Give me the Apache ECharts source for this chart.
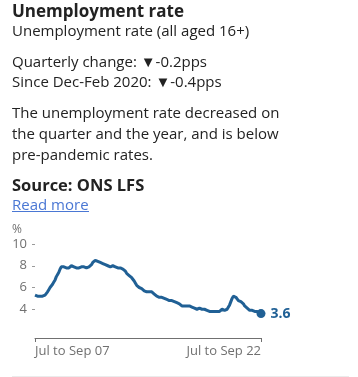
<!DOCTYPE html>
<html>
<head>
<meta charset="utf-8">
<script src="https://cdn.jsdelivr.net/npm/echarts@6/dist/echarts.min.js"></script>
<style>
html,body{margin:0;padding:0;background:#fff;}
#chart{width:358px;height:377px;}
</style>
</head>
<body>
<div id="chart"></div>
<script>
// Unemployment rate (%), rolling 3-month periods, Jul-Sep 2007 to Jul-Sep 2022 (by end month)
const rate2007 = [5.3, 5.2, 5.2, 5.2];
const rate2008 = [5.2, 5.2, 5.2, 5.2, 5.3, 5.4, 5.6, 5.8, 6.0, 6.1, 6.3, 6.5];
const rate2009 = [6.7, 7.0, 7.2, 7.4, 7.7, 7.9, 7.9, 7.9, 7.9, 7.8, 7.8, 7.8];
const rate2010 = [7.9, 8.0, 8.0, 7.9, 7.8, 7.8, 7.8, 7.8, 7.8, 7.9, 7.9, 7.9];
const rate2011 = [7.8, 7.8, 7.8, 7.9, 8.0, 8.1, 8.3, 8.4, 8.5, 8.5, 8.4, 8.4];
const rate2012 = [8.3, 8.2, 8.2, 8.1, 8.1, 8.0, 8.0, 7.9, 7.9, 7.9, 8.0, 7.9];
const rate2013 = [7.9, 7.9, 7.8, 7.8, 7.8, 7.8, 7.7, 7.6, 7.5, 7.3, 7.2, 7.1];
const rate2014 = [7.0, 6.9, 6.8, 6.6, 6.4, 6.2, 6.1, 6.0, 6.0, 5.9, 5.8, 5.7];
const rate2015 = [5.7, 5.6, 5.6, 5.6, 5.7, 5.6, 5.5, 5.4, 5.3, 5.2, 5.1, 5.1];
const rate2016 = [5.1, 5.1, 5.1, 5.0, 4.9, 4.9, 4.9, 4.8, 4.8, 4.8, 4.8, 4.7];
const rate2017 = [4.7, 4.6, 4.6, 4.5, 4.4, 4.3, 4.3, 4.3, 4.3, 4.3, 4.3, 4.3];
const rate2018 = [4.2, 4.2, 4.2, 4.1, 4.0, 4.0, 4.0, 4.1, 4.0, 4.0, 4.0, 4.0];
const rate2019 = [3.9, 3.9, 3.8, 3.8, 3.8, 3.8, 3.9, 3.8, 3.8, 3.8, 3.8, 3.8];
const rate2020 = [3.9, 4.0, 3.9, 3.9, 3.9, 4.0, 4.1, 4.4, 4.7, 5.0, 5.2, 5.2];
const rate2021 = [5.1, 5.0, 4.8, 4.8, 4.7, 4.6, 4.5, 4.3, 4.2, 4.1, 4.0, 3.9];
const rate2022 = [3.8, 3.9, 3.8, 3.8, 3.8, 3.8, 3.7, 3.6, 3.6];

const yTicks = [4, 6, 8, 10];
const firstLabel = 'Jul to Sep 07';
const lastLabel = 'Jul to Sep 22';

const values = [].concat(rate2007, rate2008, rate2009, rate2010, rate2011, rate2012,
  rate2013, rate2014, rate2015, rate2016, rate2017, rate2018, rate2019, rate2020,
  rate2021, rate2022);

const mon = ['Jan','Feb','Mar','Apr','May','Jun','Jul','Aug','Sep','Oct','Nov','Dec'];
const categories = values.map(function (v, i) {
  const end = 8 + i; // month index of end month, starting Sep 2007
  const startM = end - 2;
  const yEnd = 2007 + Math.floor(end / 12);
  return mon[((startM % 12) + 12) % 12] + ' to ' + mon[end % 12] + ' ' + String(yEnd).slice(2);
});
categories[0] = firstLabel;
categories[categories.length - 1] = lastLabel;

const lastIdx = values.length - 1;

const FONT = '"Open Sans", sans-serif';
const TXT = '#222222';
function txt(x, y, s, size, weight, fill) {
  return {
    type: 'text', x: x, y: y, silent: true,
    style: {
      text: s, fill: fill || TXT, textVerticalAlign: 'middle',
      font: (weight || 'normal') + ' ' + size + 'px ' + FONT
    }
  };
}

const chart = echarts.init(document.getElementById('chart'), null, { renderer: 'canvas' });
chart.setOption({
  animation: false,
  backgroundColor: '#ffffff',
  graphic: [
    txt(12, 12, 'Unemployment rate', 17, 'bold'),
    txt(12, 32, 'Unemployment rate (all aged 16+)', 15),
    txt(12, 63, 'Quarterly change: ▼-0.2pps', 15),
    txt(12, 83, 'Since Dec-Feb 2020: ▼-0.4pps', 15),
    txt(12, 114, 'The unemployment rate decreased on', 15),
    txt(12, 135, 'the quarter and the year, and is below', 15),
    txt(12, 156, 'pre-pandemic rates.', 15),
    txt(12, 186, 'Source: ONS LFS', 16.5, 'bold'),
    txt(12, 206, 'Read more', 15, 'normal', '#4a77d4'),
    { type: 'line', silent: true, shape: { x1: 12, y1: 211.5, x2: 89, y2: 211.5 },
      style: { stroke: '#4a77d4', lineWidth: 1 } },
    txt(12, 230, '%', 12, 'normal', '#707070'),
    { type: 'line', silent: true, shape: { x1: 12, y1: 376.5, x2: 349, y2: 376.5 },
      style: { stroke: '#ebebeb', lineWidth: 1 } }
  ],
  grid: { left: 35, right: 97, top: 244, bottom: 46, containLabel: false },
  xAxis: {
    type: 'category',
    data: categories,
    boundaryGap: false,
    offset: 7,
    axisLine: { show: true, lineStyle: { color: '#707070', width: 1 } },
    axisTick: {
      show: true, length: 4, lineStyle: { color: '#707070' },
      interval: function (i) { return i === 0 || i === lastIdx; }
    },
    axisLabel: {
      show: true, color: '#707070', fontFamily: 'Open Sans', fontSize: 13, margin: 7,
      interval: function (i) { return i === 0 || i === lastIdx; },
      showMinLabel: true, showMaxLabel: true,
      alignMinLabel: 'left', alignMaxLabel: 'right'
    },
    splitLine: { show: false }
  },
  yAxis: {
    type: 'value',
    min: 2, max: 10, interval: 2,
    axisLine: { show: false },
    axisTick: { show: true, length: 3, lineStyle: { color: '#9a9a9a' },
      customValues: yTicks },
    axisLabel: {
      color: '#707070', fontFamily: 'Open Sans', fontSize: 13, margin: 8,
      customValues: yTicks
    },
    splitLine: { show: false }
  },
  series: [{
    type: 'line',
    data: values,
    showSymbol: false,
    symbol: 'none',
    lineStyle: { color: '#206095', width: 3 },
    itemStyle: { color: '#206095' },
    z: 3
  }, {
    type: 'scatter',
    data: [[lastIdx, values[lastIdx]]],
    symbol: 'circle', symbolSize: 9,
    itemStyle: { color: '#206095', opacity: 1 },
    label: {
      show: true, position: 'right', distance: 5,
      formatter: function (p) { return p.value[1].toFixed(1); },
      color: '#206095', fontFamily: 'Open Sans', fontWeight: 'bold', fontSize: 14
    },
    z: 4
  }]
});
</script>
</body>
</html>
